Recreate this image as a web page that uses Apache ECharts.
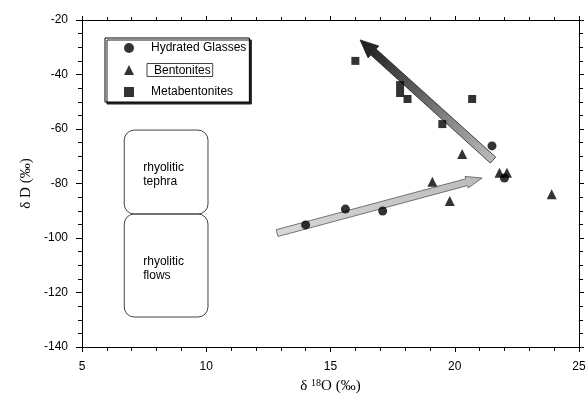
<!DOCTYPE html>
<html>
<head>
<meta charset="utf-8">
<script src="https://cdn.jsdelivr.net/npm/echarts@6/dist/echarts.min.js"></script>
<style>
  html, body { margin: 0; padding: 0; background: #fff; }
  #chart { width: 587px; height: 404px; }
</style>
</head>
<body>
<div id="chart"></div>
<script>
// d18O, dD pairs
const glasses = [[14.0, -95.2], [15.6, -89.4], [17.1, -90.1], [21.5, -66.2], [22.0, -78.0]];
const bentonites = [[20.3, -69.2], [19.1, -79.4], [19.8, -86.4], [21.8, -76.1], [22.1, -76.1], [23.9, -83.9]];
const metabentonites = [[16.0, -35.0], [17.8, -43.9], [17.8, -46.8], [18.1, -49.0], [20.7, -49.0], [19.5, -58.2]];
// arrows: tail x, tail y, head x, head y
const lightArrow = [[12.85, -98.2, 21.1, -78.0]];
const darkArrow = [[21.54, -71.4, 16.19, -27.3]];
// rhyolite fields: left, top, right, bottom
const tephraField = [[6.7, -60.4, 10.07, -91.2]];
const flowsField = [[6.7, -91.2, 10.07, -129.0]];
const fieldNames = ['rhyolitic\ntephra', 'rhyolitic\nflows'];
const seriesNames = ['Hydrated Glasses', 'Bentonites', 'Metabentonites'];

const sans = 'Liberation Sans, Arial, sans-serif';
const serif = 'Liberation Serif, Times New Roman, serif';

function arrowItem(opts) {
  return function (params, api) {
    const p0 = api.coord([api.value(0), api.value(1)]);
    const p1 = api.coord([api.value(2), api.value(3)]);
    const dx = p1[0] - p0[0], dy = p1[1] - p0[1];
    const len = Math.sqrt(dx * dx + dy * dy);
    const ux = dx / len, uy = dy / len;
    const nx = -uy, ny = ux;
    const bx = p1[0] - ux * opts.headLen, by = p1[1] - uy * opts.headLen;
    const hw = opts.shaft, hh = opts.head;
    const pts = [
      [p0[0] + nx * hw, p0[1] + ny * hw],
      [bx + nx * hw, by + ny * hw],
      [bx + nx * hh, by + ny * hh],
      [p1[0], p1[1]],
      [bx - nx * hh, by - ny * hh],
      [bx - nx * hw, by - ny * hw],
      [p0[0] - nx * hw, p0[1] - ny * hw]
    ];
    return {
      type: 'polygon',
      shape: { points: pts },
      style: {
        fill: new echarts.graphic.LinearGradient(p0[0], p0[1], p1[0], p1[1], [
          { offset: 0, color: opts.tailColor },
          { offset: 1, color: opts.headColor }
        ], true),
        stroke: opts.stroke,
        lineWidth: 0.8
      }
    };
  };
}

function fieldItem(idx) {
  return function (params, api) {
    const a = api.coord([api.value(0), api.value(1)]);
    const b = api.coord([api.value(2), api.value(3)]);
    return {
      type: 'group',
      children: [
        {
          type: 'rect',
          shape: { x: a[0], y: a[1], width: b[0] - a[0], height: b[1] - a[1], r: 10 },
          style: { fill: 'none', stroke: '#444', lineWidth: 1 }
        },
        {
          type: 'text',
          style: {
            text: fieldNames[idx],
            x: a[0] + 19,
            y: (a[1] + b[1]) / 2 + 3,
            verticalAlign: 'middle',
            font: '12px ' + sans,
            lineHeight: 14,
            fill: '#000'
          }
        }
      ]
    };
  };
}

const chart = echarts.init(document.getElementById('chart'));

const option = {
  backgroundColor: '#fff',
  animation: false,
  grid: { left: 82, right: 8, top: 20, bottom: 57, outerBoundsMode: 'none' },
  legend: {
    orient: 'vertical',
    left: 105,
    top: 38,
    selectedMode: false,
    data: seriesNames,
    itemWidth: 10,
    itemHeight: 10,
    itemGap: 9,
    padding: [4, 3, 4, 19],
    backgroundColor: '#fff',
    borderColor: '#000',
    borderWidth: 1,
    shadowColor: '#222',
    shadowBlur: 0,
    shadowOffsetX: 2,
    shadowOffsetY: 2,
    formatter: function (name) {
      return name === 'Bentonites' ? '{g|}{b|' + name + '}' : '{n|' + name + '}';
    },
    textStyle: {
      fontFamily: sans,
      fontSize: 12,
      color: '#000',
      rich: {
        n: { fontFamily: sans, fontSize: 12, padding: [0, 0, 0, 12] },
        g: { width: 8 },
        b: {
          fontFamily: sans, fontSize: 12,
          borderColor: '#444', borderWidth: 1,
          padding: [1, 2, 0, 7]
        }
      }
    }
  },
  xAxis: [
    {
      type: 'value', min: 5, max: 25, interval: 5,
      name: '{a|δ }{s|18}{a|O (‰)}',
      nameLocation: 'middle', nameGap: 28,
      nameTextStyle: {
        rich: {
          a: { fontFamily: serif, fontSize: 15, color: '#000' },
          s: { fontFamily: serif, fontSize: 10, color: '#000', padding: [0, 0, 7, 0] }
        }
      },
      axisLine: { onZero: false, lineStyle: { color: '#000', width: 1 } },
      axisTick: { show: true, inside: false, length: 5, lineStyle: { color: '#000' } },
      minorTick: { show: true, splitNumber: 5, length: 4, lineStyle: { color: '#000' } },
      axisLabel: { fontFamily: sans, fontSize: 12, color: '#000', margin: 14 },
      splitLine: { show: false }
    },
    {
      type: 'value', min: 5, max: 25, interval: 5, position: 'top',
      axisLine: { onZero: false, lineStyle: { color: '#000', width: 1 } },
      axisTick: { show: true, inside: false, length: 4, lineStyle: { color: '#000' } },
      minorTick: { show: true, splitNumber: 5, length: 3, lineStyle: { color: '#000' } },
      axisLabel: { show: false },
      splitLine: { show: false }
    }
  ],
  yAxis: [
    {
      type: 'value', min: -140, max: -20, interval: 20,
      name: 'δ D (‰)',
      nameLocation: 'middle', nameGap: 48,
      nameTextStyle: { fontFamily: serif, fontSize: 15, color: '#000' },
      axisLine: { onZero: false, lineStyle: { color: '#000', width: 1 } },
      axisTick: { show: true, inside: false, length: 6, lineStyle: { color: '#000' } },
      minorTick: { show: true, splitNumber: 4, length: 4, lineStyle: { color: '#000' } },
      axisLabel: { fontFamily: sans, fontSize: 12, color: '#000', margin: 14 },
      splitLine: { show: false }
    },
    {
      type: 'value', min: -140, max: -20, interval: 20, position: 'right',
      axisLine: { onZero: false, lineStyle: { color: '#000', width: 1 } },
      axisTick: { show: true, inside: false, length: 5, lineStyle: { color: '#000' } },
      minorTick: { show: true, splitNumber: 4, length: 4, lineStyle: { color: '#000' } },
      axisLabel: { show: false },
      splitLine: { show: false }
    }
  ],
  series: [
    {
      type: 'custom', name: 'tephra field', data: tephraField,
      renderItem: fieldItem(0), encode: { x: [0, 2], y: [1, 3] }, clip: false, silent: true
    },
    {
      type: 'custom', name: 'flows field', data: flowsField,
      renderItem: fieldItem(1), encode: { x: [0, 2], y: [1, 3] }, clip: false, silent: true
    },
    {
      type: 'custom', name: 'glass trend', data: lightArrow, z: 3,
      renderItem: arrowItem({ shaft: 3.5, head: 6, headLen: 16, tailColor: '#d8d8d8', headColor: '#bbbbbb', stroke: '#555' }),
      encode: { x: [0, 2], y: [1, 3] }, clip: false, silent: true
    },
    {
      type: 'custom', name: 'diagenesis trend', data: darkArrow, z: 3,
      renderItem: arrowItem({ shaft: 4, head: 8, headLen: 18, tailColor: '#bbbbbb', headColor: '#1a1a1a', stroke: '#222' }),
      encode: { x: [0, 2], y: [1, 3] }, clip: false, silent: true
    },
    {
      type: 'scatter', name: seriesNames[0], data: glasses, z: 5,
      symbol: 'circle', symbolSize: 9, itemStyle: { color: '#000' }
    },
    {
      type: 'scatter', name: seriesNames[1], data: bentonites, z: 5,
      symbol: 'triangle', symbolSize: 10, itemStyle: { color: '#000' }
    },
    {
      type: 'scatter', name: seriesNames[2], data: metabentonites, z: 5,
      symbol: 'rect', symbolSize: 8, itemStyle: { color: '#000' }
    }
  ]
};

chart.setOption(option);
window.addEventListener('resize', function () {
  chart.resize();
});
</script>
</body>
</html>
